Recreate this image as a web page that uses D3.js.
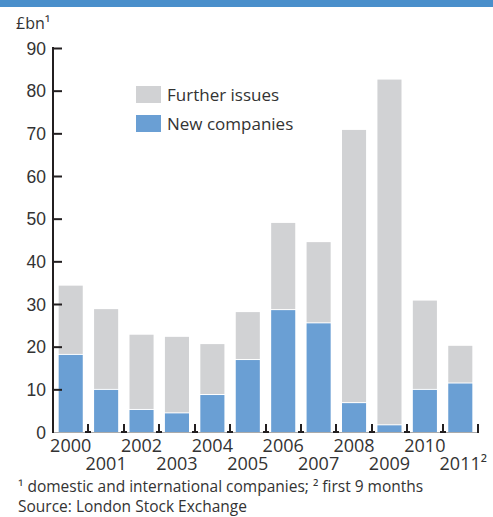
<!DOCTYPE html>
<html><head><meta charset="utf-8">
<script src="https://cdn.jsdelivr.net/npm/d3@7/dist/d3.min.js"></script>
<style>
body{margin:0;background:#fff;}
svg{display:block;font-family:"Open Sans",sans-serif;}
</style></head><body>
<script>
const years = ["2000","2001","2002","2003","2004","2005","2006","2007","2008","2009","2010","2011"];
const yearLabels = ["2000","2001","2002","2003","2004","2005","2006","2007","2008","2009","2010","2011²"];
const newCompanies = [18.3,10.1,5.4,4.6,8.9,17.1,28.8,25.7,7.0,1.8,10.1,11.6];
const totals = [34.3,28.8,22.8,22.3,20.6,28.1,49.0,44.5,70.8,82.6,30.8,20.2];
const furtherIssues = totals.map((t,i)=>+(t-newCompanies[i]).toFixed(1));
const yTicks = [0,10,20,30,40,50,60,70,80,90];
const seriesNames = ["Further issues","New companies"];

const W=493,H=517;
const svg=d3.select("body").append("svg").attr("width",W).attr("height",H);
const txt="#333";
svg.append("rect").attr("x",0).attr("y",0).attr("width",W).attr("height",7).attr("fill","#4a8fcb");

const x=d3.scaleBand().domain(years).range([53,478]).paddingInner(0.32).paddingOuter(0.16);
const y=d3.scaleLinear().domain([0,90]).range([432,48]);
const colGrey="#d1d2d4", colBlue="#6a9fd4";

// bars
const g=svg.append("g");
years.forEach((yr,i)=>{
  g.append("rect").attr("x",x(yr)).attr("width",x.bandwidth())
    .attr("y",y(totals[i])).attr("height",y(newCompanies[i])-y(totals[i]))
    .attr("fill",colGrey);
  g.append("rect").attr("x",x(yr)).attr("width",x.bandwidth())
    .attr("y",y(newCompanies[i])+1).attr("height",y(0)-y(newCompanies[i])-1)
    .attr("fill",colBlue);
});

// x axis baseline
svg.append("line").attr("x1",53).attr("x2",478).attr("y1",432.5).attr("y2",432.5)
  .attr("stroke","#aaa").attr("stroke-width",1);
// boundary ticks
const step=x.step();
for(let k=1;k<=years.length;k++){
  const bx=Math.round(53+k*step);
  svg.append("line").attr("x1",bx).attr("x2",bx).attr("y1",424).attr("y2",433)
    .attr("stroke","#231f20").attr("stroke-width",2);
  if(k<years.length) svg.append("line").attr("x1",bx-3).attr("x2",bx+3).attr("y1",432).attr("y2",432)
    .attr("stroke","#231f20").attr("stroke-width",2);
}
// x labels
years.forEach((yr,i)=>{
  svg.append("text").attr("x",x(yr)+x.bandwidth()/2+(i===11?3:0)).attr("y",i%2===0?452:470)
    .attr("text-anchor","middle").attr("font-size",18).attr("fill",txt).text(yearLabels[i]);
});

// y axis
const ya=d3.axisRight(y).tickValues(yTicks).tickSize(9).tickFormat(d3.format("d"));
const yg=svg.append("g").attr("transform","translate(53,0)").call(ya);
yg.select(".domain").remove();
yg.selectAll(".tick line").attr("stroke","#231f20").attr("stroke-width",2);
yg.selectAll(".tick text").attr("x",-7).attr("text-anchor","end").attr("font-size",17.5).attr("fill",txt).attr("dy","0.36em");
yg.selectAll(".tick").filter(d=>d===0).select("line").remove();
svg.append("line").attr("x1",53).attr("x2",53).attr("y1",47).attr("y2",433)
  .attr("stroke","#231f20").attr("stroke-width",2);

// unit label
svg.append("text").attr("x",16).attr("y",29).attr("font-size",16).attr("fill",txt).text("£bn¹");

// legend
const lg=svg.append("g");
[[seriesNames[0],colGrey,86],[seriesNames[1],colBlue,115]].forEach(([n,c,yy])=>{
  lg.append("rect").attr("x",136).attr("y",yy).attr("width",25).attr("height",17).attr("fill",c);
  lg.append("text").attr("x",167).attr("y",yy+15).attr("font-size",17).attr("fill",txt).text(n);
});

// footnotes
svg.append("text").attr("x",18).attr("y",492).attr("font-size",15.5).attr("fill",txt)
  .text("¹ domestic and international companies; ² first 9 months");
svg.append("text").attr("x",18).attr("y",512).attr("font-size",15.5).attr("fill",txt).text("Source: London Stock Exchange");
</script>
</body></html>
